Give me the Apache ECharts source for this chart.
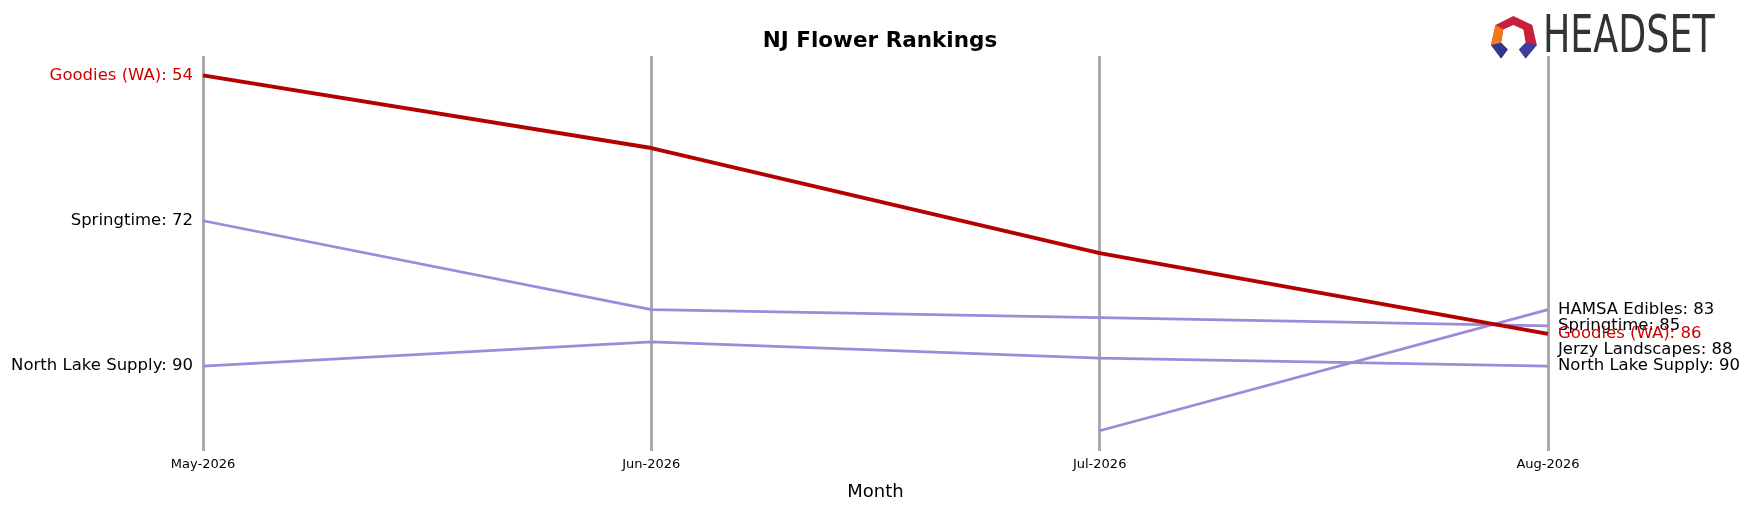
<!DOCTYPE html>
<html><head><meta charset="utf-8">
<script src="https://cdn.jsdelivr.net/npm/echarts@6/dist/echarts.min.js"></script>
<style>html,body{margin:0;background:#fff}#c{width:1751px;height:506px}</style>
</head><body><div id="c"></div>
<script>
var months = ['May-2026', 'Jun-2026', 'Jul-2026', 'Aug-2026'];
var goodies = [54, 63, 76, 86];
var springtime = [72, 83, 84, 85];
var northLake = [90, 87, 89, 90];
var hamsa = [null, null, 98, 83];
var jerzy = [null, null, null, 88];

var chart = echarts.init(document.getElementById('c'));

// label first and last existing points
function withLabels(name, vals, color) {
    var first = -1, last = -1;
    vals.forEach(function (v, i) { if (v != null) { if (first < 0) first = i; last = i; } });
    return vals.map(function (v, i) {
        if (v == null) return null;
        var item = { value: v };
        if (i === last && i === months.length - 1) {
            item.label = { show: true, position: 'right', distance: 9, color: color, fontSize: 16.5, formatter: name + ': ' + v };
        } else if (i === first && i === 0) {
            item.label = { show: true, position: 'left', distance: 9, color: color, fontSize: 16.5, formatter: name + ': ' + v };
        }
        return item;
    });
}

function line(name, vals, color, textColor, width, z) {
    return {
        name: name, type: 'line', data: withLabels(name, vals, textColor),
        symbol: 'circle', symbolSize: 2, showSymbol: true, showAllSymbol: true, z: z,
        itemStyle: { color: 'rgba(0,0,0,0)' },
        lineStyle: { color: color, width: width },
        labelLayout: { hideOverlap: false },
        label: { show: false, fontFamily: 'DejaVu Sans' }
    };
}

var purple = '#9b8bd9';
chart.setOption({
    animation: false,
    textStyle: { fontFamily: 'DejaVu Sans' },
    title: {
        text: 'NJ Flower Rankings', left: 875, top: 25, textAlign: 'center',
        textStyle: { fontSize: 21.5, fontWeight: 'bold', color: '#000', fontFamily: 'DejaVu Sans' }
    },
    grid: { left: 203, right: 203, top: 56, bottom: 49 },
    xAxis: {
        type: 'category', data: months, boundaryGap: false,
        name: 'Month', nameLocation: 'middle', nameGap: 32,
        nameTextStyle: { fontSize: 18, color: '#000' },
        axisLine: { show: false }, axisTick: { show: false },
        axisLabel: { color: '#000', fontSize: 13, margin: 7 },
        splitLine: { show: true, lineStyle: { color: '#aaa', width: 3 } }
    },
    yAxis: {
        type: 'value', inverse: true, min: 51.6, max: 100.5,
        axisLabel: { show: false }, axisLine: { show: false }, axisTick: { show: false },
        splitLine: { show: false }
    },
    series: [
        line('Springtime', springtime, purple, '#000', 2.7, 2),
        line('North Lake Supply', northLake, purple, '#000', 2.7, 2),
        line('HAMSA Edibles', hamsa, purple, '#000', 2.7, 2),
        line('Jerzy Landscapes', jerzy, purple, '#000', 2.7, 2),
        line('Goodies (WA)', goodies, '#b30000', '#cc0000', 4, 3)
    ],
    graphic: [
        { type: 'group', x: 1491, y: 16, scaleX: 1.117, scaleY: 1.117, children: [
            { type: 'polygon', shape: { points: [[20, 0], [37, 8], [41, 26], [31, 38], [25, 30], [31, 24], [29, 12], [20, 8], [11, 12], [9, 24], [15, 30], [9, 38], [0, 26], [4, 8]] }, style: { fill: '#c8203c' } },
            { type: 'polygon', shape: { points: [[0, 26], [9, 24], [15, 30], [9, 38]] }, style: { fill: '#2b3a8f' } },
            { type: 'polygon', shape: { points: [[41, 26], [31, 24], [25, 30], [31, 38]] }, style: { fill: '#3b3fa0' } },
            { type: 'polygon', shape: { points: [[4, 8], [11, 12], [9, 24], [0, 26]] }, style: { fill: '#ee7a1a' } }
        ] },
        { type: 'text', x: 1543, y: 12, scaleX: 0.7, style: { text: 'HEADSET', fontSize: 52, fontFamily: 'DejaVu Sans', fill: '#333' } }
    ]
});
</script></body></html>
